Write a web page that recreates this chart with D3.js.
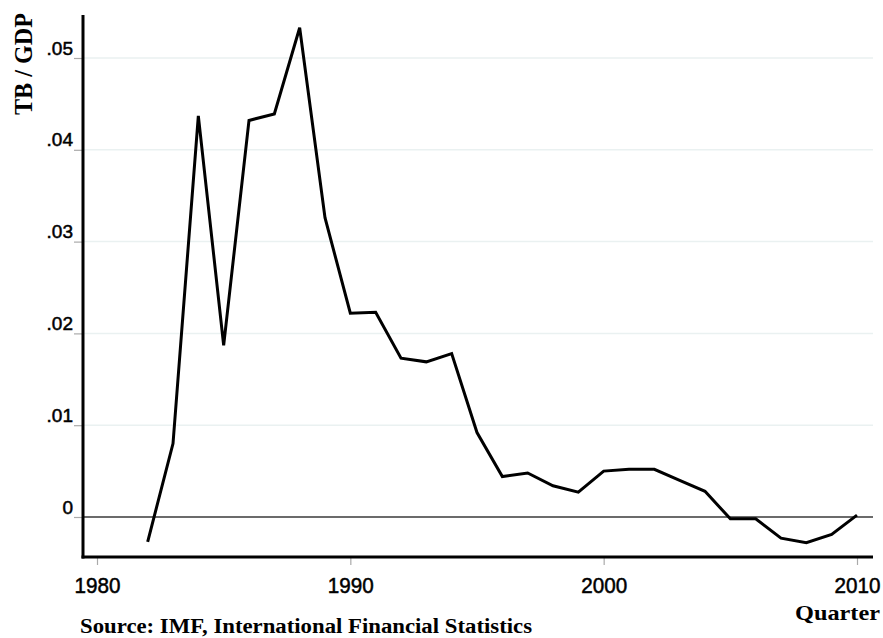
<!DOCTYPE html>
<html><head><meta charset="utf-8">
<script src="https://cdn.jsdelivr.net/npm/d3@7"></script>
<style>body{margin:0;background:#fff}svg{display:block}</style>
</head><body>
<script>
const years = [1982,1983,1984,1985,1986,1987,1988,1989,1990,1991,1992,1993,1994,1995,1996,1997,1998,1999,2000,2001,2002,2003,2004,2005,2006,2007,2008,2009,2010];
const tbgdp = [-0.0027,0.0080,0.0437,0.0187,0.0432,0.0439,0.0533,0.0326,0.0222,0.0223,0.0173,0.0169,0.0178,0.0092,0.0044,0.0048,0.0034,0.0027,0.0050,0.0052,0.0052,0.0040,0.0028,-0.0002,-0.0002,-0.0023,-0.0028,-0.0019,0.0002];
const yTicks = [0,0.01,0.02,0.03,0.04,0.05];
const yTickLabels = ["0",".01",".02",".03",".04",".05"];
const xTicks = [1980,1990,2000,2010];

(function(){
const W=883,H=638;
const svg=d3.select("body").append("svg").attr("width",W).attr("height",H);
const x=d3.scaleLinear().domain([1980,2010]).range([97,857]);
const y=d3.scaleLinear().domain([0,0.05]).range([517,58]);
const pL=83, pR=873, pT=15, pB=557;

// gridlines
svg.append("g").selectAll("line").data(yTicks.filter(d=>d>0)).join("line")
  .attr("x1",pL).attr("x2",pR).attr("y1",d=>y(d)).attr("y2",d=>y(d))
  .attr("stroke","#eaf1f1").attr("stroke-width",1.5);

// zero line
svg.append("line").attr("x1",pL).attr("x2",pR).attr("y1",y(0)).attr("y2",y(0))
  .attr("stroke","#3a3a3a").attr("stroke-width",1.6);

// y axis
const yAxis=d3.axisLeft(y).tickValues(yTicks).tickFormat((d,i)=>yTickLabels[i]).tickSize(9).tickPadding(2);
const gy=svg.append("g").attr("transform",`translate(${pL},0)`).call(yAxis);
gy.select(".domain").remove();
gy.selectAll(".tick line").attr("stroke","#aaa").attr("stroke-width",1.2);
gy.selectAll(".tick text").attr("font-family","Liberation Sans, Arial, sans-serif").attr("font-size",19).attr("fill","#000")
  .attr("stroke","#000").attr("stroke-width",0.5).attr("dy","-0.21em").attr("x",-10);

// x axis
const xAxis=d3.axisBottom(x).tickValues(xTicks).tickFormat(d3.format("d")).tickSize(8).tickPadding(12);
const gx=svg.append("g").attr("transform",`translate(0,${pB})`).call(xAxis);
gx.select(".domain").remove();
gx.selectAll(".tick line").attr("stroke","#aaa").attr("stroke-width",1.2);
gx.selectAll(".tick text").attr("font-family","Liberation Sans, Arial, sans-serif").attr("font-size",22).attr("fill","#000")
  .attr("stroke","#000").attr("stroke-width",0.5)
  .attr("textLength",46).attr("lengthAdjust","spacingAndGlyphs");

// axis lines
svg.append("line").attr("x1",pL).attr("x2",pL).attr("y1",pT).attr("y2",pB+1.5).attr("stroke","#000").attr("stroke-width",3);
svg.append("line").attr("x1",pL-1.5).attr("x2",pR).attr("y1",pB).attr("y2",pB).attr("stroke","#000").attr("stroke-width",3);

// data line
svg.append("path").datum(years.map((d,i)=>[d,tbgdp[i]]))
  .attr("d",d3.line().x(d=>x(d[0])).y(d=>y(d[1])))
  .attr("fill","none").attr("stroke","#000").attr("stroke-width",3).attr("stroke-linejoin","miter");

// labels
svg.append("text").attr("transform","translate(32,64) rotate(-90)").attr("text-anchor","middle")
  .attr("font-family","Liberation Serif, Times New Roman, serif").attr("font-weight","bold").attr("font-size",25)
  .attr("textLength",102).attr("lengthAdjust","spacingAndGlyphs").text("TB / GDP");
svg.append("text").attr("x",880).attr("y",620).attr("text-anchor","end")
  .attr("font-family","Liberation Serif, Times New Roman, serif").attr("font-weight","bold").attr("font-size",21)
  .attr("textLength",85).attr("lengthAdjust","spacingAndGlyphs").text("Quarter");
svg.append("text").attr("x",80).attr("y",633)
  .attr("font-family","Liberation Serif, Times New Roman, serif").attr("font-weight","bold").attr("font-size",20)
  .attr("textLength",452).attr("lengthAdjust","spacingAndGlyphs").text("Source: IMF, International Financial Statistics");
})();
</script>
</body></html>
